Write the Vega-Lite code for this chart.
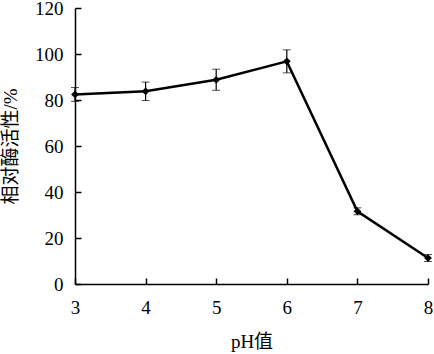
{
  "$schema": "https://vega.github.io/schema/vega-lite/v6.json",
  "width": 353,
  "height": 276,
  "autosize": {"type": "none"},
  "padding": {"left": 75, "top": 8, "right": 6, "bottom": 70},
  "background": "white",
  "data": {"values": [
    {"ph": 3, "activity": 82.4, "err": 3},
    {"ph": 4, "activity": 83.8, "err": 4},
    {"ph": 5, "activity": 88.8, "err": 4.6},
    {"ph": 6, "activity": 96.8, "err": 5},
    {"ph": 7, "activity": 31.6, "err": 1.5},
    {"ph": 8, "activity": 11.3, "err": 1.5}
  ]},
  "config": {
    "view": {"stroke": null},
    "axis": {
      "grid": false,
      "domainColor": "black",
      "domainWidth": 1.5,
      "tickColor": "black",
      "tickWidth": 1.5,
      "tickSize": -6,
      "labelFont": "Liberation Serif",
      "labelFontSize": 19,
      "labelColor": "black",
      "titleFont": "Liberation Serif, Noto Sans CJK SC",
      "titleFontSize": 19,
      "titleFontWeight": "normal",
      "titleColor": "black"
    }
  },
  "encoding": {
    "x": {
      "field": "ph", "type": "quantitative",
      "scale": {"domain": [3, 8], "nice": false, "zero": false},
      "axis": {"title": "pH值", "values": [3,4,5,6,7,8], "labelPadding": 20, "titlePadding": 15, "labelFlush": false}
    }
  },
  "layer": [
    {
      "mark": {"type": "errorbar", "ticks": {"size": 8, "color": "black", "strokeWidth": 1.2}, "rule": {"color": "black", "strokeWidth": 1.2}},
      "encoding": {
        "y": {
          "field": "activity", "type": "quantitative",
          "scale": {"domain": [0, 120], "nice": false},
          "axis": {"title": "相对酶活性/%", "values": [0,20,40,60,80,100,120], "labelPadding": 18, "titlePadding": 14}
        },
        "yError": {"field": "err"}
      }
    },
    {
      "mark": {"type": "line", "color": "black", "strokeWidth": 2.5},
      "encoding": {
        "y": {"field": "activity", "type": "quantitative", "title": "相对酶活性/%"}
      }
    },
    {
      "mark": {"type": "point", "shape": "diamond", "filled": true, "color": "black", "size": 60, "opacity": 1},
      "encoding": {"y": {"field": "activity", "type": "quantitative", "title": "相对酶活性/%"}}
    }
  ]
}
